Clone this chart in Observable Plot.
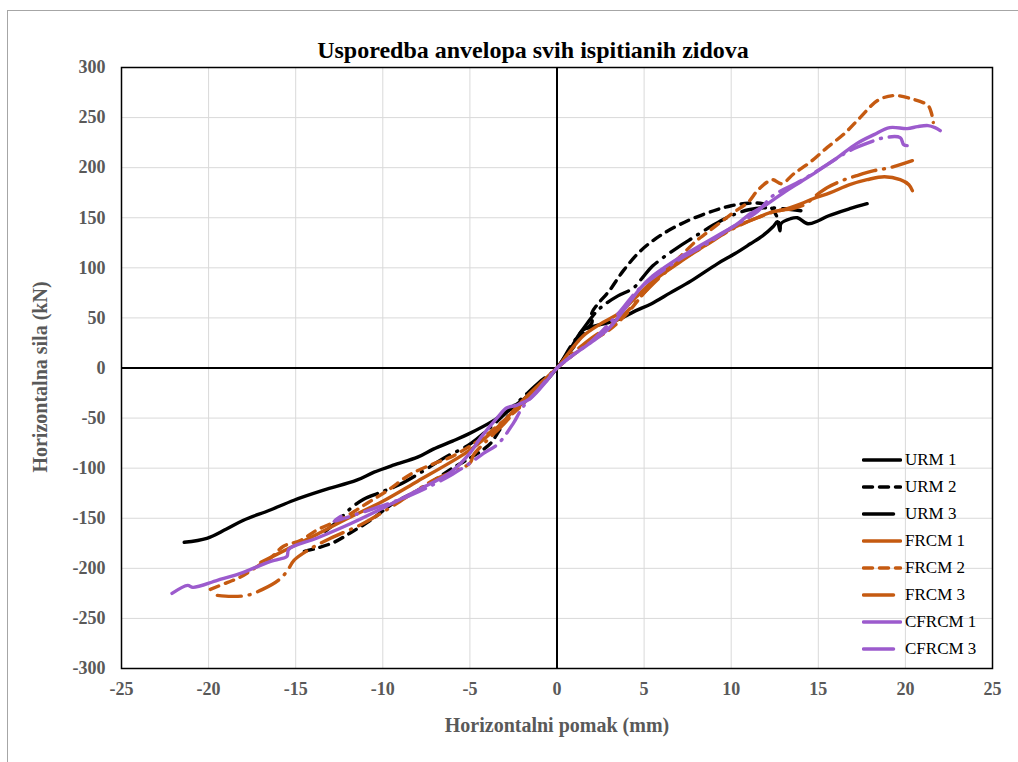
<!DOCTYPE html>
<html>
<head>
<meta charset="utf-8">
<script src="https://cdn.jsdelivr.net/npm/d3@7"></script>
<script src="https://cdn.jsdelivr.net/npm/@observablehq/plot@0.6"></script>
<style>
  html, body { margin: 0; padding: 0; background: #fff; overflow: hidden; }
  #wrap { position: relative; width: 1018px; height: 762px; }
  #border { position: absolute; left: 7px; top: 10px; width: 1100px; height: 900px; border: 1px solid #a6a6a6; pointer-events: none; }
  #legend { position: absolute; left: 862px; top: 446px; font-family: "Liberation Serif", "Times New Roman", serif; font-size: 17px; color: #000; }
  .item { height: 27px; display: flex; align-items: center; }
  .item svg { display: block; margin-right: 3px; }
</style>
</head>
<body>
<div id="wrap"><div id="border"></div><div id="chart"></div><div id="legend"></div></div>
<script>
// ---- Data (displacement mm, force kN) ----
const xTicks = [-25, -20, -15, -10, -5, 0, 5, 10, 15, 20, 25];
const yTicks = [-300, -250, -200, -150, -100, -50, 0, 50, 100, 150, 200, 250, 300];

const URM1 = [[-21.4,-174],[-20.1,-170],[-19,-161],[-18,-152],[-16.5,-142],[-15.1,-132],[-13.4,-122],[-11.5,-112],[-10.5,-104],[-9.4,-97],[-8,-89],[-7.1,-81],[-6,-73],[-5.1,-66],[-3.6,-52],[-2.3,-36],[-0.8,-16],[0,0],
  [0.8,20],[1.5,38],[2.2,42],[2.9,45],[3.6,49],[4.5,57],[5.4,64],[6.5,75],[7.7,87],[9.2,104],[10.2,114],[11.1,124],[11.8,132],[12.4,141],[12.65,146],[12.8,137],[12.85,144],[13.4,149],[13.8,150],[14.4,144],[15,147],[15.6,152],[16.8,159],[17.8,164]];
const URM2 = [[-14.5,-183],[-13.8,-180],[-12.8,-174],[-11.9,-165],[-10.7,-152],[-9.4,-135],[-8.3,-125],[-7.3,-115],[-6,-100],[-5,-90],[-4.2,-81],[-3.8,-75],[-3.3,-62],[-2.8,-48],[-2.5,-42],[-2,-33],[-1,-17],[0,0],
  [1,22],[1.6,37],[2,45],[2,55],[2.3,63],[3,77],[3.8,97],[4.8,117],[6,133],[7.5,147],[9,157],[10,162],[11,164.5],[11.8,164],[12.3,160],[12.6,152],[12.8,140]];
const URM3 = [[-13.3,-163],[-12.6,-153],[-11.9,-141],[-11.1,-131],[-10.1,-124],[-9,-116],[-7.6,-102],[-6.5,-90],[-5,-76],[-4,-62],[-3,-46],[-2,-30],[-1,-14],[0,0],
  [0.8,22],[1.5,39],[2.2,55],[2.7,63],[3.5,72],[4.4,80],[4.9,90],[5.5,102],[6.9,120],[7.8,130],[9,143],[10,152],[11,158],[12,160],[13,159],[14,157]];
const FRCM1 = [[-17,-194],[-15.5,-181],[-14,-168],[-12,-150],[-10,-133],[-8,-113],[-6,-93],[-5,-82],[-4,-68],[-3,-52],[-2,-33],[-1,-16],[0,0],
  [0.8,18],[1.5,32],[2.5,44],[3.5,54],[4.5,70],[5.4,85],[7,105],[8.2,119],[9.5,134],[10.5,143],[11.5,150],[12.4,156],[13,158],[14,164],[14.7,169],[15.7,175],[16.8,183],[17.8,188],[18.8,191],[19.7,188],[20.2,183],[20.4,177]];
const FRCM2 = [[-19.9,-221],[-18.9,-214],[-18.2,-209],[-17.2,-198],[-16.4,-189],[-15.7,-178],[-14.7,-172],[-13.8,-162],[-12.2,-149],[-10.9,-135],[-9.7,-122],[-8.4,-106],[-7,-95],[-6.1,-89],[-5,-78],[-4.2,-69],[-3.3,-56],[-2.3,-42],[-1,-18],[0,0],
  [1,14],[2,27],[3,38],[4,54],[5,75],[6,94],[7,110],[8,127],[8.6,135],[9.5,147],[10.2,156],[11,166],[11.5,177],[12.1,186],[12.4,188],[12.9,184],[13.6,194],[14.5,205],[15.5,220],[16.5,234],[17.4,250],[18.4,267],[19.3,272],[20.3,269],[21.3,262],[21.5,254],[21.6,245]];
const FRCM3 = [[-19.5,-227],[-18.7,-228],[-17.8,-227],[-16.9,-221],[-16,-212],[-15.5,-203],[-15.1,-192],[-14.3,-182],[-13,-170],[-11.1,-155],[-9,-133],[-7.1,-112],[-5,-95],[-4.8,-87],[-4,-72],[-3,-55],[-2,-35],[-1,-17],[0,0],
  [1,16],[2,30],[3,42],[4,56],[5,75],[6,92],[7,106],[8.5,122],[10,138],[11.5,150],[12.7,157],[13.5,159],[14.2,163],[15,174],[15.5,180],[16.5,188],[17.2,192],[18.2,197],[19.1,200],[20.4,207]];
const CFRCM1 = [[-22.1,-225],[-21.2,-217],[-20.9,-219],[-19.5,-212],[-18,-204],[-16.6,-194],[-16,-191],[-15.5,-188],[-15.4,-181],[-13.8,-170],[-11.8,-155],[-9.9,-139],[-8,-122],[-6.1,-104],[-5,-85],[-4.4,-70],[-3.4,-49],[-2.9,-40],[-2.3,-37],[-1.5,-30],[-0.6,-13],[0,0],
  [1,14],[2,26],[3,40],[3.8,57],[4.8,80],[5.5,92],[6.3,102],[7.3,113],[8.3,123],[9.4,134],[10.2,142],[11.1,154],[12,163],[13,175],[14,186],[15,197],[16.1,210],[17.2,224],[18.2,233],[19.1,240],[20.1,239],[20.7,241],[21.3,242],[21.7,240],[22,237]];
const CFRCM3 = [[-12.4,-148],[-12.8,-153],[-12.2,-150],[-11.5,-146],[-9.6,-135],[-8.4,-127],[-7.4,-119],[-6,-106],[-5,-95],[-4.2,-85],[-3.4,-76],[-2.5,-55],[-2,-40],[-1,-20],[0,0],
  [1,14],[2,27],[3.5,54],[4.6,77],[5.5,90],[7,108],[8.5,123],[10,140],[11.5,156],[12.4,172],[14,187],[15.5,203],[16.8,217],[17.9,225],[18.8,230],[19.7,230],[19.9,223],[20.1,222]];

const seriesNames = ["URM 1","URM 2","URM 3","FRCM 1","FRCM 2","FRCM 3","CFRCM 1","CFRCM 3"];
const seriesData = [URM1, URM2, URM3, FRCM1, FRCM2, FRCM3, CFRCM1, CFRCM3];

// ---- Styles ----
const BLACK = "#000000", ORANGE = "#C55A11", PURPLE = "#9C5BCD";
const styles = {
  "URM 1":   {stroke: BLACK,  dash: null},
  "URM 2":   {stroke: BLACK,  dash: "9,7"},
  "URM 3":   {stroke: BLACK,  dash: "24,8,1,8"},
  "FRCM 1":  {stroke: ORANGE, dash: null},
  "FRCM 2":  {stroke: ORANGE, dash: "9,7"},
  "FRCM 3":  {stroke: ORANGE, dash: "24,8,1,8"},
  "CFRCM 1": {stroke: PURPLE, dash: null},
  "CFRCM 3": {stroke: PURPLE, dash: "24,8,1,8"}
};

const rows = seriesNames.flatMap((name, i) => seriesData[i].map(([x, y]) => ({name, x, y})));

const font = "'Liberation Serif', 'Times New Roman', serif";
const lineMarks = seriesNames.map(name => Plot.line(rows.filter(d => d.name === name), {
  x: "x", y: "y", stroke: styles[name].stroke, strokeWidth: 3.4,
  strokeDasharray: styles[name].dash, strokeLinecap: "round", strokeLinejoin: "round", curve: "catmull-rom"
}));

const chart = Plot.plot({
  width: 1018, height: 762,
  marginTop: 67, marginLeft: 121, marginRight: 26, marginBottom: 94,
  style: {fontFamily: font, background: "transparent", overflow: "visible"},
  x: {domain: [-25, 25], label: null},
  y: {domain: [-300, 300], label: null},
  marks: [
    Plot.gridX(xTicks, {stroke: "#d9d9d9", strokeOpacity: 1, strokeWidth: 1}),
    Plot.gridY(yTicks, {stroke: "#d9d9d9", strokeOpacity: 1, strokeWidth: 1}),
    Plot.ruleX([0], {stroke: "#000", strokeWidth: 2}),
    Plot.ruleY([0], {stroke: "#000", strokeWidth: 2}),
    ...lineMarks,
    Plot.frame({stroke: "#000", strokeWidth: 1.5}),
    Plot.axisX(xTicks, {tickSize: 0, tickPadding: 14, fontSize: 18, fontWeight: "bold", fill: "#595959", tickFormat: d => String(d), label: null}),
    Plot.axisY(yTicks, {tickSize: 0, tickPadding: 16, fontSize: 18, fontWeight: "bold", fill: "#595959", tickFormat: d => String(d), label: null}),
    Plot.text(["Usporedba anvelopa svih ispitianih zidova"], {frameAnchor: "top", dx: -24, dy: -27, fontSize: 24, fontWeight: "bold", fill: "#000", fontFamily: font}),
    Plot.text(["Horizontalni pomak (mm)"], {frameAnchor: "bottom", dy: 63, fontSize: 20, fontWeight: "bold", fill: "#595959", fontFamily: font}),
    Plot.text(["Horizontalna sila (kN)"], {frameAnchor: "left", textAnchor: "middle", dx: -81, dy: 9, rotate: -90, fontSize: 20, fontWeight: "bold", fill: "#595959", fontFamily: font})
  ]
});
document.getElementById("chart").appendChild(chart);

// ---- Legend ----
const legend = document.getElementById("legend");
seriesNames.forEach(name => {
  const s = styles[name];
  const isDashDot = s.dash && s.dash.split(",").length > 2;
  const len = isDashDot ? 33 : 40;
  const item = document.createElement("div");
  item.className = "item";
  const svg = d3.create("svg").attr("width", 40).attr("height", 8);
  svg.append("line").attr("x1", 1.5).attr("x2", len - 1.5).attr("y1", 4).attr("y2", 4)
    .attr("stroke", s.stroke).attr("stroke-width", 3.5).attr("stroke-linecap", "round")
    .attr("stroke-dasharray", isDashDot ? null : s.dash);
  item.appendChild(svg.node());
  const span = document.createElement("span");
  span.textContent = name;
  item.appendChild(span);
  legend.appendChild(item);
});
</script>
</body>
</html>
